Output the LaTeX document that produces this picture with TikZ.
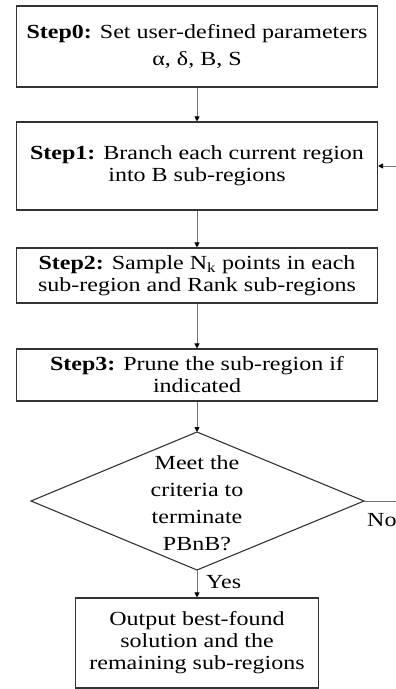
\documentclass[tikz,border=0pt]{standalone}
\usepackage{fontspec}
\setmainfont{Liberation Serif}[FakeStretch=1.2]
\usetikzlibrary{arrows.meta}
\tikzset{
  stepbox/.style={draw=black!80, line width=1.1pt, minimum width=361pt, inner sep=0pt, align=center,
    font=\fontsize{20}{22}\selectfont},
  conn/.style={draw=black!55, line width=0.8pt, -{Triangle[width=5pt,length=5pt,fill=black,color=black]}},
  lbl/.style={font=\fontsize{20}{22}\selectfont, inner sep=0pt}
}
\begin{document}
\begin{tikzpicture}[x=1pt,y=-1pt]
\useasboundingbox (0,0) rectangle (396,689);
\clip (0,0) rectangle (396,689);
\node[stepbox, minimum height=81pt, font=\fontsize{20}{27}\selectfont] (s0) at (197,46.5)
  {\textbf{Step0:} Set user-defined parameters\\α, δ, B, S};
\node[stepbox, minimum height=88pt] (s1) at (197,166)
  {\textbf{Step1:} Branch each current region\\into B sub-regions};
\node[stepbox, minimum height=55pt] (s2) at (197,275.5)
  {\textbf{Step2:} Sample N\textsubscript{k} points in each\\sub-region and Rank sub-regions};
\node[stepbox, minimum height=52pt] (s3) at (197,375)
  {\textbf{Step3:} Prune the sub-region if\\indicated};
\coordinate (dtop) at (197,432);
\coordinate (dright) at (364,501);
\coordinate (dbot) at (197,570);
\coordinate (dleft) at (31,501);
\draw[draw=black!80, line width=1.1pt] (dtop) -- (dright) -- (dbot) -- (dleft) -- cycle;
\node[align=center, inner sep=0pt, font=\fontsize{20}{27}\selectfont] (dtext) at (197,503)
  {Meet the\\criteria to\\terminate\\PBnB?};
\node[stepbox, minimum width=243pt, minimum height=90pt] (out) at (197,643)
  {Output best-found\\solution and the\\remaining sub-regions};
\coordinate (loop) at (420,0);
\draw[conn] (s0) -- (s1);
\draw[conn] (s1) -- (s2);
\draw[conn] (s2) -- (s3);
\draw[conn] (s3) -- (dtop);
\draw[conn] (dbot) -- (out);
\draw[conn] (dright) -- (dright -| loop) |- (s1.east);
\node[lbl, anchor=west] (no) at (367,520) {No};
\node[lbl, anchor=west] (yes) at (206,582) {Yes};
\end{tikzpicture}
\end{document}
